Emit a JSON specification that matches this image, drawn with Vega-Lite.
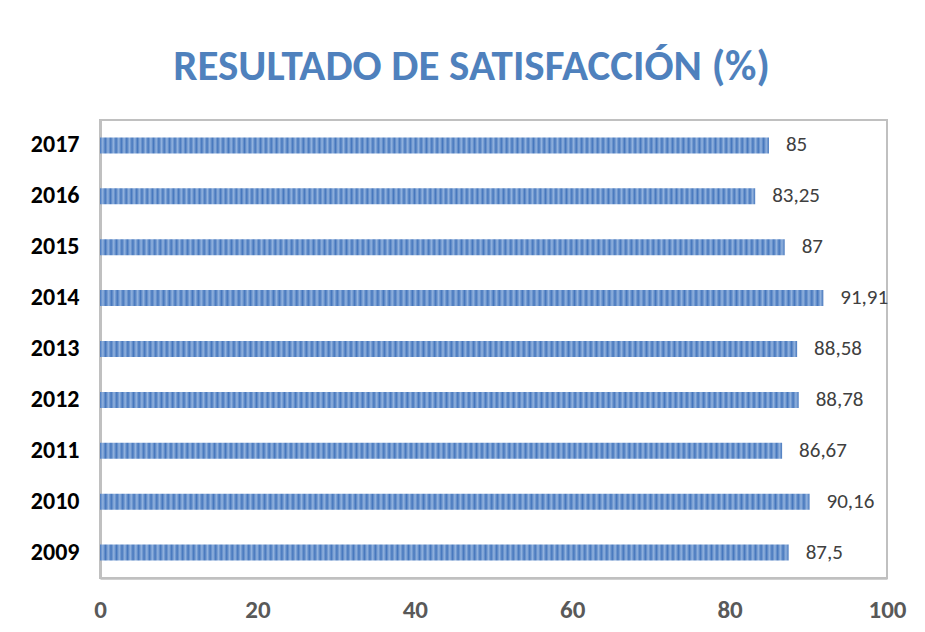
{
 "$schema": "https://vega.github.io/schema/vega-lite/v6.json",
 "width": 787,
 "height": 458,
 "autosize": "none",
 "padding": {"left": 100, "top": 120, "right": 38, "bottom": 54},
 "background": "white",
 "config": {
  "locale": {"number": {"decimal": ",", "thousands": ".", "grouping": [3], "currency": ["", " €"]}},
  "view": {"stroke": "#c0c0c0", "strokeWidth": 2}
 },
 "title": {"text": "RESULTADO DE SATISFACCIÓN (%)", "font": "Carlito, Liberation Sans Narrow, Liberation Sans", "fontSize": 43, "fontWeight": "bold", "color": "#4f81bd", "anchor": "middle", "dx": -22, "offset": 31},
 "data": {"values": [
  {"year": "2009", "value": 87.5},
  {"year": "2010", "value": 90.16},
  {"year": "2011", "value": 86.67},
  {"year": "2012", "value": 88.78},
  {"year": "2013", "value": 88.58},
  {"year": "2014", "value": 91.91},
  {"year": "2015", "value": 87},
  {"year": "2016", "value": 83.25},
  {"year": "2017", "value": 85}
 ]},
 "encoding": {
  "y": {"field": "year", "type": "nominal", "sort": "descending", "title": null,
   "axis": {"ticks": false, "domain": true, "domainColor": "#c0c0c0", "domainWidth": 3, "grid": false, "labelFont": "Carlito, Liberation Sans Narrow, Liberation Sans", "labelFontSize": 24, "labelFontWeight": "bold", "labelColor": "#000000", "labelPadding": 21}},
  "x": {"field": "value", "type": "quantitative", "scale": {"domain": [0, 100], "nice": false}, "title": null,
   "axis": {"values": [0, 20, 40, 60, 80, 100], "ticks": false, "domain": true, "domainColor": "#c0c0c0", "domainWidth": 2.5, "grid": false, "labelFlush": false, "labelFont": "Carlito, Liberation Sans Narrow, Liberation Sans", "labelFontSize": 25, "labelFontWeight": "bold", "labelColor": "#595959", "labelPadding": 19}}
 },
 "layer": [
  {"mark": {"type": "bar", "height": 16, "fill": {"gradient": "linear", "x1": 0, "y1": 0, "x2": 1, "y2": 0, "stops": [
{"offset":0,"color":"#4677bd"},{"offset":0.004,"color":"#93b3de"},{"offset":0.008,"color":"#4677bd"},{"offset":0.012,"color":"#93b3de"},{"offset":0.016,"color":"#4677bd"},{"offset":0.02,"color":"#93b3de"},{"offset":0.024,"color":"#4677bd"},{"offset":0.028,"color":"#93b3de"},{"offset":0.032,"color":"#4677bd"},{"offset":0.036,"color":"#93b3de"},
{"offset":0.04,"color":"#4677bd"},{"offset":0.044,"color":"#93b3de"},{"offset":0.048,"color":"#4677bd"},{"offset":0.052,"color":"#93b3de"},{"offset":0.056,"color":"#4677bd"},{"offset":0.06,"color":"#93b3de"},{"offset":0.064,"color":"#4677bd"},{"offset":0.068,"color":"#93b3de"},{"offset":0.072,"color":"#4677bd"},{"offset":0.076,"color":"#93b3de"},
{"offset":0.08,"color":"#4677bd"},{"offset":0.084,"color":"#93b3de"},{"offset":0.088,"color":"#4677bd"},{"offset":0.092,"color":"#93b3de"},{"offset":0.096,"color":"#4677bd"},{"offset":0.1,"color":"#93b3de"},{"offset":0.104,"color":"#4677bd"},{"offset":0.108,"color":"#93b3de"},{"offset":0.112,"color":"#4677bd"},{"offset":0.116,"color":"#93b3de"},
{"offset":0.12,"color":"#4677bd"},{"offset":0.124,"color":"#93b3de"},{"offset":0.128,"color":"#4677bd"},{"offset":0.132,"color":"#93b3de"},{"offset":0.136,"color":"#4677bd"},{"offset":0.14,"color":"#93b3de"},{"offset":0.144,"color":"#4677bd"},{"offset":0.148,"color":"#93b3de"},{"offset":0.152,"color":"#4677bd"},{"offset":0.156,"color":"#93b3de"},
{"offset":0.16,"color":"#4677bd"},{"offset":0.164,"color":"#93b3de"},{"offset":0.168,"color":"#4677bd"},{"offset":0.172,"color":"#93b3de"},{"offset":0.176,"color":"#4677bd"},{"offset":0.18,"color":"#93b3de"},{"offset":0.184,"color":"#4677bd"},{"offset":0.188,"color":"#93b3de"},{"offset":0.192,"color":"#4677bd"},{"offset":0.196,"color":"#93b3de"},
{"offset":0.2,"color":"#4677bd"},{"offset":0.204,"color":"#93b3de"},{"offset":0.208,"color":"#4677bd"},{"offset":0.212,"color":"#93b3de"},{"offset":0.216,"color":"#4677bd"},{"offset":0.22,"color":"#93b3de"},{"offset":0.224,"color":"#4677bd"},{"offset":0.228,"color":"#93b3de"},{"offset":0.232,"color":"#4677bd"},{"offset":0.236,"color":"#93b3de"},
{"offset":0.24,"color":"#4677bd"},{"offset":0.244,"color":"#93b3de"},{"offset":0.248,"color":"#4677bd"},{"offset":0.252,"color":"#93b3de"},{"offset":0.256,"color":"#4677bd"},{"offset":0.26,"color":"#93b3de"},{"offset":0.264,"color":"#4677bd"},{"offset":0.268,"color":"#93b3de"},{"offset":0.272,"color":"#4677bd"},{"offset":0.276,"color":"#93b3de"},
{"offset":0.28,"color":"#4677bd"},{"offset":0.284,"color":"#93b3de"},{"offset":0.288,"color":"#4677bd"},{"offset":0.292,"color":"#93b3de"},{"offset":0.296,"color":"#4677bd"},{"offset":0.3,"color":"#93b3de"},{"offset":0.304,"color":"#4677bd"},{"offset":0.308,"color":"#93b3de"},{"offset":0.312,"color":"#4677bd"},{"offset":0.316,"color":"#93b3de"},
{"offset":0.32,"color":"#4677bd"},{"offset":0.324,"color":"#93b3de"},{"offset":0.328,"color":"#4677bd"},{"offset":0.332,"color":"#93b3de"},{"offset":0.336,"color":"#4677bd"},{"offset":0.34,"color":"#93b3de"},{"offset":0.344,"color":"#4677bd"},{"offset":0.348,"color":"#93b3de"},{"offset":0.352,"color":"#4677bd"},{"offset":0.356,"color":"#93b3de"},
{"offset":0.36,"color":"#4677bd"},{"offset":0.364,"color":"#93b3de"},{"offset":0.368,"color":"#4677bd"},{"offset":0.372,"color":"#93b3de"},{"offset":0.376,"color":"#4677bd"},{"offset":0.38,"color":"#93b3de"},{"offset":0.384,"color":"#4677bd"},{"offset":0.388,"color":"#93b3de"},{"offset":0.392,"color":"#4677bd"},{"offset":0.396,"color":"#93b3de"},
{"offset":0.4,"color":"#4677bd"},{"offset":0.404,"color":"#93b3de"},{"offset":0.408,"color":"#4677bd"},{"offset":0.412,"color":"#93b3de"},{"offset":0.416,"color":"#4677bd"},{"offset":0.42,"color":"#93b3de"},{"offset":0.424,"color":"#4677bd"},{"offset":0.428,"color":"#93b3de"},{"offset":0.432,"color":"#4677bd"},{"offset":0.436,"color":"#93b3de"},
{"offset":0.44,"color":"#4677bd"},{"offset":0.444,"color":"#93b3de"},{"offset":0.448,"color":"#4677bd"},{"offset":0.452,"color":"#93b3de"},{"offset":0.456,"color":"#4677bd"},{"offset":0.46,"color":"#93b3de"},{"offset":0.464,"color":"#4677bd"},{"offset":0.468,"color":"#93b3de"},{"offset":0.472,"color":"#4677bd"},{"offset":0.476,"color":"#93b3de"},
{"offset":0.48,"color":"#4677bd"},{"offset":0.484,"color":"#93b3de"},{"offset":0.488,"color":"#4677bd"},{"offset":0.492,"color":"#93b3de"},{"offset":0.496,"color":"#4677bd"},{"offset":0.5,"color":"#93b3de"},{"offset":0.504,"color":"#4677bd"},{"offset":0.508,"color":"#93b3de"},{"offset":0.512,"color":"#4677bd"},{"offset":0.516,"color":"#93b3de"},
{"offset":0.52,"color":"#4677bd"},{"offset":0.524,"color":"#93b3de"},{"offset":0.528,"color":"#4677bd"},{"offset":0.532,"color":"#93b3de"},{"offset":0.536,"color":"#4677bd"},{"offset":0.54,"color":"#93b3de"},{"offset":0.544,"color":"#4677bd"},{"offset":0.548,"color":"#93b3de"},{"offset":0.552,"color":"#4677bd"},{"offset":0.556,"color":"#93b3de"},
{"offset":0.56,"color":"#4677bd"},{"offset":0.564,"color":"#93b3de"},{"offset":0.568,"color":"#4677bd"},{"offset":0.572,"color":"#93b3de"},{"offset":0.576,"color":"#4677bd"},{"offset":0.58,"color":"#93b3de"},{"offset":0.584,"color":"#4677bd"},{"offset":0.588,"color":"#93b3de"},{"offset":0.592,"color":"#4677bd"},{"offset":0.596,"color":"#93b3de"},
{"offset":0.6,"color":"#4677bd"},{"offset":0.604,"color":"#93b3de"},{"offset":0.608,"color":"#4677bd"},{"offset":0.612,"color":"#93b3de"},{"offset":0.616,"color":"#4677bd"},{"offset":0.62,"color":"#93b3de"},{"offset":0.624,"color":"#4677bd"},{"offset":0.628,"color":"#93b3de"},{"offset":0.632,"color":"#4677bd"},{"offset":0.636,"color":"#93b3de"},
{"offset":0.64,"color":"#4677bd"},{"offset":0.644,"color":"#93b3de"},{"offset":0.648,"color":"#4677bd"},{"offset":0.652,"color":"#93b3de"},{"offset":0.656,"color":"#4677bd"},{"offset":0.66,"color":"#93b3de"},{"offset":0.664,"color":"#4677bd"},{"offset":0.668,"color":"#93b3de"},{"offset":0.672,"color":"#4677bd"},{"offset":0.676,"color":"#93b3de"},
{"offset":0.68,"color":"#4677bd"},{"offset":0.684,"color":"#93b3de"},{"offset":0.688,"color":"#4677bd"},{"offset":0.692,"color":"#93b3de"},{"offset":0.696,"color":"#4677bd"},{"offset":0.7,"color":"#93b3de"},{"offset":0.704,"color":"#4677bd"},{"offset":0.708,"color":"#93b3de"},{"offset":0.712,"color":"#4677bd"},{"offset":0.716,"color":"#93b3de"},
{"offset":0.72,"color":"#4677bd"},{"offset":0.724,"color":"#93b3de"},{"offset":0.728,"color":"#4677bd"},{"offset":0.732,"color":"#93b3de"},{"offset":0.736,"color":"#4677bd"},{"offset":0.74,"color":"#93b3de"},{"offset":0.744,"color":"#4677bd"},{"offset":0.748,"color":"#93b3de"},{"offset":0.752,"color":"#4677bd"},{"offset":0.756,"color":"#93b3de"},
{"offset":0.76,"color":"#4677bd"},{"offset":0.764,"color":"#93b3de"},{"offset":0.768,"color":"#4677bd"},{"offset":0.772,"color":"#93b3de"},{"offset":0.776,"color":"#4677bd"},{"offset":0.78,"color":"#93b3de"},{"offset":0.784,"color":"#4677bd"},{"offset":0.788,"color":"#93b3de"},{"offset":0.792,"color":"#4677bd"},{"offset":0.796,"color":"#93b3de"},
{"offset":0.8,"color":"#4677bd"},{"offset":0.804,"color":"#93b3de"},{"offset":0.808,"color":"#4677bd"},{"offset":0.812,"color":"#93b3de"},{"offset":0.816,"color":"#4677bd"},{"offset":0.82,"color":"#93b3de"},{"offset":0.824,"color":"#4677bd"},{"offset":0.828,"color":"#93b3de"},{"offset":0.832,"color":"#4677bd"},{"offset":0.836,"color":"#93b3de"},
{"offset":0.84,"color":"#4677bd"},{"offset":0.844,"color":"#93b3de"},{"offset":0.848,"color":"#4677bd"},{"offset":0.852,"color":"#93b3de"},{"offset":0.856,"color":"#4677bd"},{"offset":0.86,"color":"#93b3de"},{"offset":0.864,"color":"#4677bd"},{"offset":0.868,"color":"#93b3de"},{"offset":0.872,"color":"#4677bd"},{"offset":0.876,"color":"#93b3de"},
{"offset":0.88,"color":"#4677bd"},{"offset":0.884,"color":"#93b3de"},{"offset":0.888,"color":"#4677bd"},{"offset":0.892,"color":"#93b3de"},{"offset":0.896,"color":"#4677bd"},{"offset":0.9,"color":"#93b3de"},{"offset":0.904,"color":"#4677bd"},{"offset":0.908,"color":"#93b3de"},{"offset":0.912,"color":"#4677bd"},{"offset":0.916,"color":"#93b3de"},
{"offset":0.92,"color":"#4677bd"},{"offset":0.924,"color":"#93b3de"},{"offset":0.928,"color":"#4677bd"},{"offset":0.932,"color":"#93b3de"},{"offset":0.936,"color":"#4677bd"},{"offset":0.94,"color":"#93b3de"},{"offset":0.944,"color":"#4677bd"},{"offset":0.948,"color":"#93b3de"},{"offset":0.952,"color":"#4677bd"},{"offset":0.956,"color":"#93b3de"},
{"offset":0.96,"color":"#4677bd"},{"offset":0.964,"color":"#93b3de"},{"offset":0.968,"color":"#4677bd"},{"offset":0.972,"color":"#93b3de"},{"offset":0.976,"color":"#4677bd"},{"offset":0.98,"color":"#93b3de"},{"offset":0.984,"color":"#4677bd"},{"offset":0.988,"color":"#93b3de"},{"offset":0.992,"color":"#4677bd"},{"offset":0.996,"color":"#93b3de"},
{"offset":1,"color":"#4677bd"}
  ]}}},
  {"mark": {"type": "text", "align": "left", "baseline": "middle", "dx": 17, "font": "Carlito, Liberation Sans Narrow, Liberation Sans", "fontSize": 21, "color": "#404040"},
   "encoding": {"text": {"field": "value", "type": "quantitative", "format": "~f"}}}
 ]
}
